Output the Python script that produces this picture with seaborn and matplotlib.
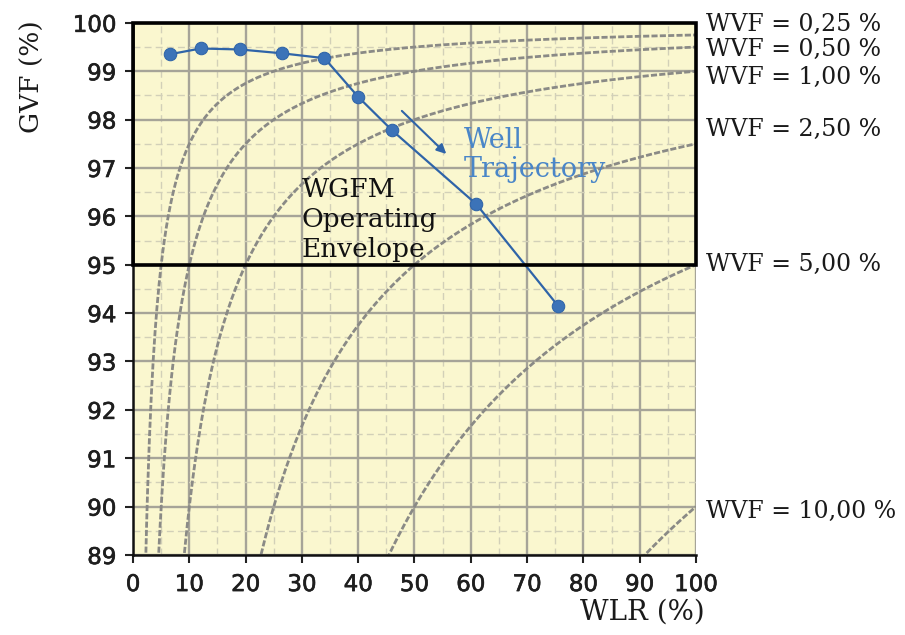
import numpy as np
import pandas as pd
import matplotlib
matplotlib.use("Agg")
import matplotlib.pyplot as plt
import matplotlib.patheffects as pe
from matplotlib.patches import Rectangle
from matplotlib.ticker import MultipleLocator
import seaborn as sns

# ---- data ----
wvf_levels = [0.25, 0.50, 1.00, 2.50, 5.00, 10.00]          # constant water volume fraction (%)
wvf_labels = ["WVF = 0,25 %", "WVF = 0,50 %", "WVF = 1,00 %",
              "WVF = 2,50 %", "WVF = 5,00 %", "WVF = 10,00 %"]
well_wlr = [6.5, 12, 19, 26.5, 34, 40, 46, 61, 75.5]           # WLR (%)
well_gvf = [99.35, 99.47, 99.45, 99.37, 99.27, 98.47, 97.78, 96.25, 94.15]  # GVF (%)
x_ticks = list(range(0, 101, 10))
y_ticks = list(range(89, 101))

# ---- layout (label positions, not data) ----
label_y = [99.96, 99.44, 98.88, 97.79, 95.0, 89.9]

sns.set_theme(style="white")
plt.rcParams["font.family"] = ["DejaVu Sans"]

fig = plt.figure(figsize=(9.05, 6.35), dpi=100)
ax = fig.add_axes([0.147, 0.126, 0.622, 0.838])
ax.set_facecolor("#FAF7CF")

# iso-WVF curves: GVF = 100 * (1 - WVF / WLR)
rows = []
for w in wvf_levels:
    wlr = np.linspace(w * 1.0001, 100, 600)
    for xv in wlr:
        rows.append({"WVF": w, "WLR": xv, "GVF": 100 * (1 - w / xv)})
curves = pd.DataFrame(rows)
for w in wvf_levels:
    sub = curves[curves["WVF"] == w]
    sns.lineplot(data=sub, x="WLR", y="GVF", ax=ax, color="#8A8A86", lw=2.0,
                 dashes=False, sort=True, estimator=None)
for ln in ax.lines:
    ln.set_dashes((2.2, 0.8))

traj = pd.DataFrame({"WLR": well_wlr, "GVF": well_gvf})
sns.lineplot(data=traj, x="WLR", y="GVF", ax=ax, sort=False, estimator=None,
             color="#2F64A8", lw=1.6, marker="o", markersize=9,
             markerfacecolor="#3C73B8", markeredgecolor="#2F64A8", zorder=5)

ax.set_xlim(0, 100)
ax.set_ylim(89, 100)
ax.set_xticks(x_ticks)
ax.set_yticks(y_ticks)
ax.xaxis.set_minor_locator(MultipleLocator(5))
ax.yaxis.set_minor_locator(MultipleLocator(0.5))
ax.grid(which="major", color="#A6A498", lw=1.7, zorder=0)
ax.grid(which="minor", color="#D2D0B8", lw=1.0, ls=(0, (5, 3)), zorder=0)
ax.set_axisbelow(True)
ax.tick_params(axis="both", which="major", direction="out", length=6, width=1.5,
               color="#222222", labelsize=16.5, labelcolor="#1e1e1e",
               left=True, bottom=True)
ax.tick_params(axis="y", which="major", pad=6)
ax.tick_params(axis="x", which="major", pad=7)
ax.tick_params(axis="both", which="minor", length=0)
for t in ax.get_xticklabels() + ax.get_yticklabels():
    t.set_path_effects([pe.withStroke(linewidth=0.45, foreground="#1e1e1e")])

for s in ["top", "right"]:
    ax.spines[s].set_visible(False)
for s in ["left", "bottom"]:
    ax.spines[s].set_color("#111111")
    ax.spines[s].set_linewidth(1.8)

# operating envelope
ax.add_patch(Rectangle((0, 95), 100, 5, fill=False, ec="black", lw=2.6,
                       clip_on=False, zorder=6))

serif = ["DejaVu Serif"]
ax.set_xlabel("WLR (%)", fontsize=20, family=serif, color="#1a1a1a")
ax.set_ylabel("GVF (%)", fontsize=19, family=serif, color="#1a1a1a", loc="top")
ax.xaxis.set_label_coords(1.016, -0.107)
ax.xaxis.label.set_horizontalalignment("right")
ax.xaxis.label.set_verticalalignment("center")
ax.yaxis.set_label_coords(-0.157, 1.005)

for lab, y in zip(wvf_labels, label_y):
    ax.text(101.8, y, lab, fontsize=17, family=serif, color="#1a1a1a",
            va="center", ha="left", clip_on=False)

ax.text(30, 96.82, "WGFM\nOperating\nEnvelope", fontsize=19, family=serif,
        color="#111111", va="top", ha="left", linespacing=1.25, zorder=7)
ax.text(58.8, 97.85, "Well\nTrajectory", fontsize=19.5, family=serif,
        color="#4A86C8", va="top", ha="left", linespacing=1.1, zorder=7)
ax.annotate("", xy=(56, 97.25), xytext=(47.4, 98.22),
            arrowprops=dict(arrowstyle="-|>", color="#2F64A8", lw=1.5,
                            mutation_scale=14), zorder=7)

fig.savefig("out.png", dpi=100)
